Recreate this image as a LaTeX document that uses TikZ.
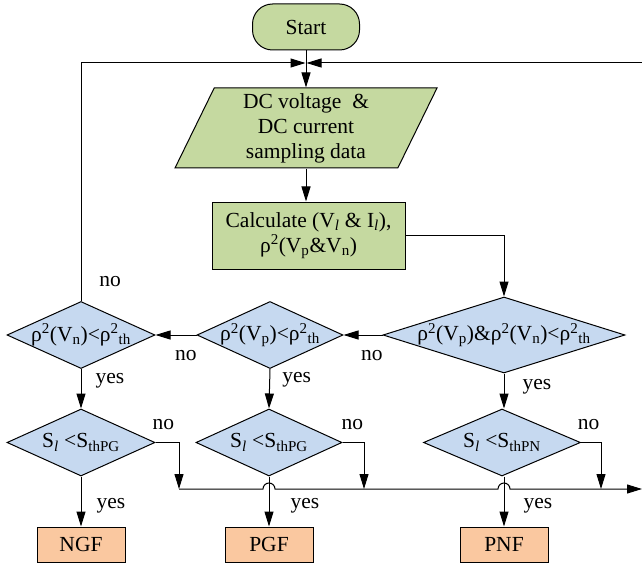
\documentclass[tikz,border=0pt]{standalone}
\usepackage{fontspec}
\setmainfont{Liberation Serif}
\usetikzlibrary{calc,positioning,shapes,arrows.meta}
\definecolor{boxgreen}{RGB}{197,217,160}
\definecolor{testblue}{RGB}{198,217,240}
\definecolor{faultorange}{RGB}{250,200,160}

\begin{document}
\begin{tikzpicture}[x=1pt,y=-1pt,line width=1pt,>={Triangle[length=15pt,width=9pt]},
  every node/.style={font=\fontsize{21.5}{25}\selectfont},
  greenbox/.style={draw,fill=boxgreen,align=center},
  test/.style={shape=diamond,draw,fill=testblue,inner sep=-4pt,aspect=2.2,minimum width=148,minimum height=67},
  fault/.style={shape=rectangle,draw,fill=faultorange,minimum width=88,minimum height=35},
  hv/.style={to path={-| (\tikztotarget) \tikztonodes}},
  vh/.style={to path={|- (\tikztotarget) \tikztonodes}}]
\useasboundingbox (0,0) rectangle (642,564);
% process column
\node[greenbox,rounded corners=20pt,minimum width=107,minimum height=46](start) at (306,27) {Start};
\node[greenbox,trapezium,trapezium left angle=60.6,trapezium right angle=119.4,trapezium stretches body,minimum width=262,minimum height=80,inner sep=0pt](data) at (306,128) {DC voltage~ \&\\DC current\\sampling data};
\node[greenbox,minimum width=193,minimum height=67](calc) at (308.5,235.5) {Calculate (V\textsubscript{\textit{l}} \& I\textsubscript{\textit{l}}),\\ρ\textsuperscript{2}(V\textsubscript{p}\&V\textsubscript{n})};
% first row of tests
\node[test,aspect=3.2,minimum width=242,minimum height=76](both) at (504,335) {ρ\textsuperscript{2}(V\textsubscript{p})\&ρ\textsuperscript{2}(V\textsubscript{n})<ρ\textsuperscript{2}\textsubscript{th}};
\node[test,minimum width=146](pv) at (270,335) {ρ\textsuperscript{2}(V\textsubscript{p})<ρ\textsuperscript{2}\textsubscript{th}};
\node[test](nv) at (81,335) {ρ\textsuperscript{2}(V\textsubscript{n})<ρ\textsuperscript{2}\textsubscript{th}};
% second row of tests
\node[test](s1) at (81,442.5) {S\textsubscript{\textit{l}} <S\textsubscript{thPG}};
\node[test,minimum width=146](s2) at (269,442.5) {S\textsubscript{\textit{l}} <S\textsubscript{thPG}};
\node[test,minimum width=157](s3) at (502,442.5) {S\textsubscript{\textit{l}} <S\textsubscript{thPN}};
% faults
\node[fault](ngf) at (81,544.5) {NGF};
\node[fault](pgf) at (269,544.5) {PGF};
\node[fault](pnf) at (504,544.5) {PNF};
\coordinate (top) at (306,63);
\coordinate (topR) at (642,63);
\coordinate (busL) at (179,489);
\coordinate (bus2) at (364,489);
\coordinate (bus3) at (601,489);
\coordinate (busR) at (642,489);
\path [->]
(start) edge (data)
(data.south) edge (data.south |- calc.north)
(calc.east) edge [hv] (both.north)
(both.west) edge node [pos=0.275,yshift=-21pt] {no} (pv.east)
(pv.west) edge node [pos=0.26,yshift=-21pt] {no} (nv.east)
(nv.north) edge [shorten >=0.5pt,vh] node [pos=0.04,xshift=29pt] {no} (top)
(topR) edge [shorten >=0.5pt] (top)
(nv.south) edge node [pos=0.29,xshift=29pt] {yes} (s1.north)
(pv.south) edge node [pos=0.27,xshift=27pt] {yes} (s2.north)
(both.south) edge node [pos=0.39,xshift=33pt] {yes} (both.south |- s3.north)
(s1.south) edge node [pos=0.59,xshift=30pt] {yes} (ngf.north)
(s2.south) edge node [pos=0.59,xshift=36pt] {yes} (pgf.north)
(s3.south -| pnf.north) edge node [pos=0.59,xshift=34pt] {yes} (pnf.north)
(s1.east) edge [hv] node [pos=0.17,yshift=17.5pt] {no} (busL)
(s2.east) edge [hv] node [pos=0.23,yshift=17.5pt] {no} (bus2)
(s3.east) edge [hv] node [pos=0.19,yshift=17.5pt] {no} (bus3);
% collecting line with jumps
\draw[->] (busL) -- ($(pgf.north |- busL)+(-6,0)$) arc[start angle=180,end angle=0,radius=6pt]
  -- ($(pnf.north |- busL)+(-6,0)$) arc[start angle=180,end angle=0,radius=6pt] -- (busR);
\end{tikzpicture}
\end{document}
